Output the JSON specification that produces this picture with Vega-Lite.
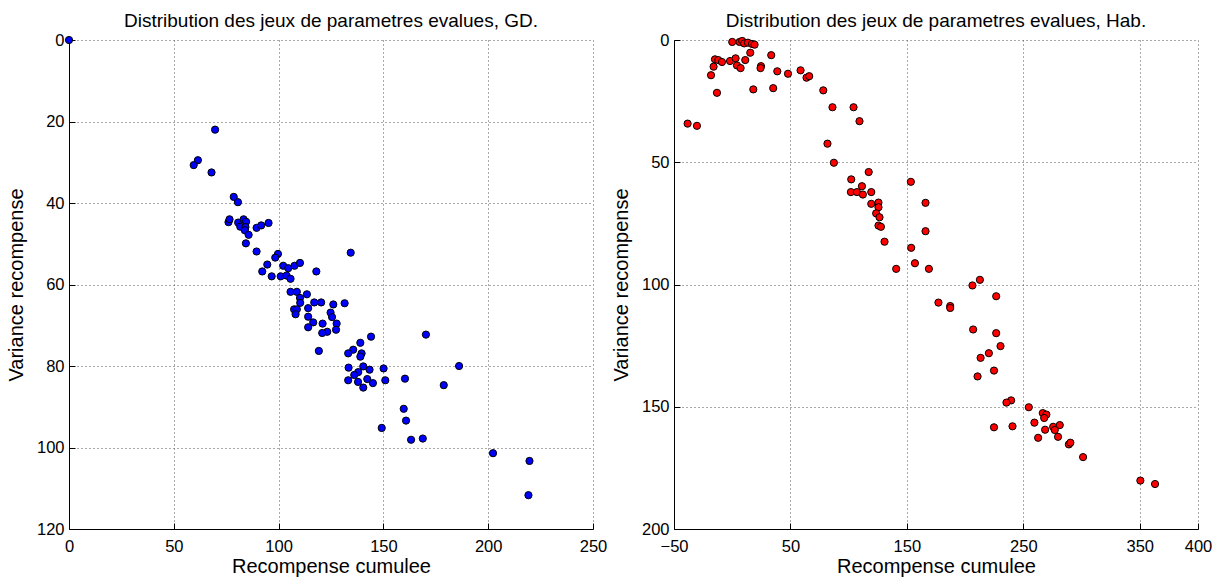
{
  "$schema": "https://vega.github.io/schema/vega-lite/v6.json",
  "background": "white",
  "padding": {"left": 6, "top": 12, "right": 5, "bottom": 5},
  "bounds": "flush",
  "spacing": 81,
  "datasets": {
    "gd": [
      {"recompense": 0, "variance": 0},
      {"recompense": 69.7, "variance": 22.0},
      {"recompense": 61.5, "variance": 29.5},
      {"recompense": 59.5, "variance": 30.7},
      {"recompense": 68.0, "variance": 32.5},
      {"recompense": 78.6, "variance": 38.5},
      {"recompense": 80.6, "variance": 39.8},
      {"recompense": 76.1, "variance": 44.7},
      {"recompense": 76.6, "variance": 44.0},
      {"recompense": 80.7, "variance": 44.8},
      {"recompense": 83.3, "variance": 44.0},
      {"recompense": 84.5, "variance": 44.6},
      {"recompense": 81.7, "variance": 45.8},
      {"recompense": 84.2, "variance": 45.9},
      {"recompense": 83.9, "variance": 46.7},
      {"recompense": 85.7, "variance": 47.8},
      {"recompense": 84.4, "variance": 49.9},
      {"recompense": 89.5, "variance": 46.1},
      {"recompense": 91.7, "variance": 45.5},
      {"recompense": 95.2, "variance": 44.9},
      {"recompense": 89.5, "variance": 51.9},
      {"recompense": 99.7, "variance": 52.5},
      {"recompense": 98.4, "variance": 53.4},
      {"recompense": 94.6, "variance": 55.1},
      {"recompense": 92.2, "variance": 56.8},
      {"recompense": 96.7, "variance": 58.0},
      {"recompense": 102.2, "variance": 55.4},
      {"recompense": 104.6, "variance": 56.0},
      {"recompense": 107.6, "variance": 55.4},
      {"recompense": 110.2, "variance": 54.7},
      {"recompense": 101.0, "variance": 58.0},
      {"recompense": 103.8, "variance": 57.8},
      {"recompense": 105.7, "variance": 58.6},
      {"recompense": 118.0, "variance": 56.8},
      {"recompense": 105.7, "variance": 61.8},
      {"recompense": 108.7, "variance": 61.8},
      {"recompense": 110.2, "variance": 63.3},
      {"recompense": 113.5, "variance": 62.4},
      {"recompense": 117.0, "variance": 64.4},
      {"recompense": 120.3, "variance": 64.4},
      {"recompense": 126.1, "variance": 64.9},
      {"recompense": 110.3, "variance": 64.5},
      {"recompense": 131.5, "variance": 64.6},
      {"recompense": 107.4, "variance": 66.1},
      {"recompense": 108.7, "variance": 66.1},
      {"recompense": 108.1, "variance": 67.3},
      {"recompense": 114.1, "variance": 65.8},
      {"recompense": 124.8, "variance": 66.9},
      {"recompense": 125.5, "variance": 68.0},
      {"recompense": 114.1, "variance": 67.9},
      {"recompense": 116.5, "variance": 69.3},
      {"recompense": 114.1, "variance": 70.5},
      {"recompense": 121.0, "variance": 69.6},
      {"recompense": 127.7, "variance": 69.6},
      {"recompense": 127.4, "variance": 71.1},
      {"recompense": 123.2, "variance": 71.6},
      {"recompense": 120.8, "variance": 71.9},
      {"recompense": 134.4, "variance": 52.2},
      {"recompense": 144.1, "variance": 72.8},
      {"recompense": 139.0, "variance": 74.3},
      {"recompense": 135.6, "variance": 76.0},
      {"recompense": 133.2, "variance": 76.9},
      {"recompense": 139.6, "variance": 76.9},
      {"recompense": 139.0, "variance": 77.7},
      {"recompense": 119.2, "variance": 76.3},
      {"recompense": 133.4, "variance": 80.4},
      {"recompense": 140.4, "variance": 80.1},
      {"recompense": 143.4, "variance": 80.9},
      {"recompense": 138.0, "variance": 81.5},
      {"recompense": 136.1, "variance": 82.2},
      {"recompense": 150.1, "variance": 80.6},
      {"recompense": 133.2, "variance": 83.5},
      {"recompense": 137.9, "variance": 83.9},
      {"recompense": 142.3, "variance": 83.2},
      {"recompense": 145.0, "variance": 84.2},
      {"recompense": 140.4, "variance": 85.3},
      {"recompense": 150.9, "variance": 83.5},
      {"recompense": 149.2, "variance": 95.2},
      {"recompense": 170.3, "variance": 72.3},
      {"recompense": 186.1, "variance": 80.0},
      {"recompense": 160.3, "variance": 83.1},
      {"recompense": 178.8, "variance": 84.7},
      {"recompense": 159.7, "variance": 90.5},
      {"recompense": 160.8, "variance": 93.4},
      {"recompense": 163.2, "variance": 98.1},
      {"recompense": 168.8, "variance": 97.8},
      {"recompense": 202.3, "variance": 101.4},
      {"recompense": 219.7, "variance": 103.3},
      {"recompense": 219.2, "variance": 111.7}
    ],
    "hab": [
      {"recompense": -38.3, "variance": 34.2},
      {"recompense": -30.3, "variance": 35.1},
      {"recompense": -18.2, "variance": 14.4},
      {"recompense": -16.0, "variance": 10.9},
      {"recompense": -14.8, "variance": 7.9},
      {"recompense": -12.0, "variance": 8.2},
      {"recompense": -8.8, "variance": 9.0},
      {"recompense": -13.1, "variance": 21.6},
      {"recompense": -1.9, "variance": 8.6},
      {"recompense": 0.0, "variance": 0.8},
      {"recompense": 2.9, "variance": 7.5},
      {"recompense": 4.1, "variance": 10.4},
      {"recompense": 7.2, "variance": 11.5},
      {"recompense": 6.3, "variance": 0.8},
      {"recompense": 8.6, "variance": 0.4},
      {"recompense": 10.3, "variance": 1.4},
      {"recompense": 13.5, "variance": 1.1},
      {"recompense": 17.0, "variance": 1.6},
      {"recompense": 19.2, "variance": 1.9},
      {"recompense": 15.5, "variance": 5.2},
      {"recompense": 11.2, "variance": 8.2},
      {"recompense": 18.1, "variance": 20.2},
      {"recompense": 24.7, "variance": 10.7},
      {"recompense": 24.3, "variance": 11.5},
      {"recompense": 33.5, "variance": 6.2},
      {"recompense": 35.2, "variance": 19.7},
      {"recompense": 38.7, "variance": 12.8},
      {"recompense": 47.9, "variance": 13.8},
      {"recompense": 58.7, "variance": 12.4},
      {"recompense": 63.8, "variance": 15.4},
      {"recompense": 66.1, "variance": 14.8},
      {"recompense": 78.2, "variance": 20.6},
      {"recompense": 86.1, "variance": 27.5},
      {"recompense": 104.2, "variance": 27.5},
      {"recompense": 109.3, "variance": 33.2},
      {"recompense": 81.8, "variance": 42.4},
      {"recompense": 87.3, "variance": 50.2},
      {"recompense": 102.2, "variance": 57.0},
      {"recompense": 117.2, "variance": 54.0},
      {"recompense": 111.4, "variance": 59.8},
      {"recompense": 153.4, "variance": 58.0},
      {"recompense": 101.9, "variance": 62.2},
      {"recompense": 107.1, "variance": 62.2},
      {"recompense": 112.2, "variance": 63.2},
      {"recompense": 119.4, "variance": 62.2},
      {"recompense": 119.4, "variance": 67.0},
      {"recompense": 125.6, "variance": 66.5},
      {"recompense": 125.6, "variance": 68.4},
      {"recompense": 123.6, "variance": 70.9},
      {"recompense": 126.5, "variance": 72.5},
      {"recompense": 125.6, "variance": 75.9},
      {"recompense": 127.7, "variance": 76.4},
      {"recompense": 166.0, "variance": 66.6},
      {"recompense": 166.0, "variance": 78.2},
      {"recompense": 130.8, "variance": 82.5},
      {"recompense": 153.7, "variance": 85.0},
      {"recompense": 156.9, "variance": 91.3},
      {"recompense": 168.9, "variance": 93.6},
      {"recompense": 140.8, "variance": 93.6},
      {"recompense": 212.7, "variance": 98.1},
      {"recompense": 206.3, "variance": 100.4},
      {"recompense": 226.7, "variance": 104.8},
      {"recompense": 177.1, "variance": 107.4},
      {"recompense": 187.2, "variance": 108.8},
      {"recompense": 187.2, "variance": 109.6},
      {"recompense": 206.9, "variance": 118.4},
      {"recompense": 226.7, "variance": 119.9},
      {"recompense": 230.4, "variance": 125.2},
      {"recompense": 220.4, "variance": 128.1},
      {"recompense": 213.3, "variance": 130.0},
      {"recompense": 224.8, "variance": 135.2},
      {"recompense": 210.7, "variance": 137.6},
      {"recompense": 239.5, "variance": 147.4},
      {"recompense": 235.5, "variance": 148.3},
      {"recompense": 254.7, "variance": 150.2},
      {"recompense": 266.7, "variance": 152.6},
      {"recompense": 269.8, "variance": 153.2},
      {"recompense": 267.9, "variance": 154.6},
      {"recompense": 259.5, "variance": 156.5},
      {"recompense": 224.8, "variance": 158.4},
      {"recompense": 240.7, "variance": 158.0},
      {"recompense": 275.6, "variance": 158.2},
      {"recompense": 281.3, "variance": 157.5},
      {"recompense": 268.7, "variance": 159.4},
      {"recompense": 277.0, "variance": 159.5},
      {"recompense": 262.7, "variance": 162.7},
      {"recompense": 279.8, "variance": 162.3},
      {"recompense": 289.1, "variance": 165.4},
      {"recompense": 290.4, "variance": 164.7},
      {"recompense": 301.3, "variance": 170.6},
      {"recompense": 350.5, "variance": 180.2},
      {"recompense": 363.1, "variance": 181.6}
    ]
  },
  "hconcat": [
    {
      "title": "Distribution des jeux de parametres evalues, GD.",
      "width": 524,
      "height": 489,
      "data": {"name": "gd"},
      "mark": {"type": "point", "shape": "circle", "filled": true, "fill": "#0000ff", "stroke": "#000000", "strokeWidth": 1, "size": 52, "opacity": 1},
      "encoding": {
        "x": {"field": "recompense", "type": "quantitative", "scale": {"domain": [0, 250], "nice": false, "zero": false}, "axis": {"values": [0, 50, 100, 150, 200, 250], "title": "Recompense cumulee"}},
        "y": {"field": "variance", "type": "quantitative", "scale": {"domain": [0, 120], "nice": false, "zero": false, "reverse": true}, "axis": {"values": [0, 20, 40, 60, 80, 100, 120], "title": "Variance recompense"}}
      }
    },
    {
      "title": "Distribution des jeux de parametres evalues, Hab.",
      "width": 524,
      "height": 489,
      "data": {"name": "hab"},
      "mark": {"type": "point", "shape": "circle", "filled": true, "fill": "#ff0000", "stroke": "#000000", "strokeWidth": 1, "size": 52, "opacity": 1},
      "encoding": {
        "x": {"field": "recompense", "type": "quantitative", "scale": {"domain": [-50, 400], "nice": false, "zero": false}, "axis": {"values": [-50, 50, 150, 250, 350, 400], "title": "Recompense cumulee"}},
        "y": {"field": "variance", "type": "quantitative", "scale": {"domain": [0, 200], "nice": false, "zero": false, "reverse": true}, "axis": {"values": [0, 50, 100, 150, 200], "title": "Variance recompense"}}
      }
    }
  ],
  "config": {
    "font": "Liberation Sans",
    "view": {"stroke": null},
    "axis": {
      "domainColor": "#000000",
      "domainWidth": 1,
      "tickColor": "#000000",
      "tickSize": -6,
      "labelFontSize": 16.5,
      "labelColor": "#000000",
      "labelFlush": false,
      "labelOverlap": false,
      "titleFontSize": 20,
      "titleFontWeight": "normal",
      "titleColor": "#000000",
      "gridColor": "#555555",
      "gridDash": [1, 3],
      "gridOpacity": 1
    },
    "axisX": {"labelPadding": 15, "titlePadding": 2},
    "axisY": {"labelPadding": 11, "titlePadding": 10},
    "title": {"fontSize": 19, "fontWeight": "normal", "color": "#000000", "offset": 1}
  }
}
